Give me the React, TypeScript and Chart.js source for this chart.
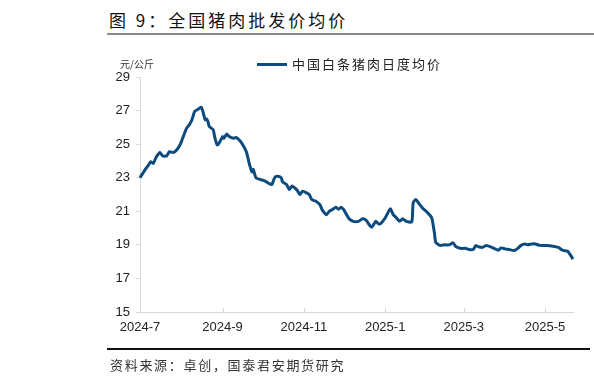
import React, { useEffect, useRef } from "react";
import { Chart, registerables } from "chart.js";

Chart.register(...registerables);

const dates: string[] = [
  "2024-07-01","2024-07-05","2024-07-07","2024-07-09","2024-07-11","2024-07-13","2024-07-16","2024-07-18","2024-07-21","2024-07-23","2024-07-26","2024-07-28","2024-07-31",
  "2024-08-02","2024-08-05","2024-08-07","2024-08-09","2024-08-11","2024-08-14","2024-08-16","2024-08-17","2024-08-19","2024-08-20","2024-08-21","2024-08-22","2024-08-25","2024-08-26","2024-08-28","2024-08-30",
  "2024-09-01","2024-09-02","2024-09-04","2024-09-06","2024-09-09","2024-09-11","2024-09-14","2024-09-17","2024-09-19","2024-09-21","2024-09-23","2024-09-24","2024-09-26","2024-09-29",
  "2024-10-03","2024-10-06","2024-10-08","2024-10-10","2024-10-12","2024-10-15","2024-10-16","2024-10-19","2024-10-21","2024-10-23","2024-10-25","2024-10-27","2024-10-29","2024-10-31",
  "2024-11-03","2024-11-05","2024-11-07","2024-11-10","2024-11-13","2024-11-15","2024-11-18","2024-11-20","2024-11-23","2024-11-25","2024-11-27","2024-11-29",
  "2024-12-01","2024-12-03","2024-12-05","2024-12-08","2024-12-12","2024-12-15","2024-12-18","2024-12-20","2024-12-22","2024-12-25","2024-12-27","2024-12-29",
  "2025-01-01","2025-01-03","2025-01-05","2025-01-07","2025-01-09","2025-01-12","2025-01-14","2025-01-17","2025-01-21","2025-01-22","2025-01-24","2025-01-26","2025-01-29",
  "2025-02-02","2025-02-05","2025-02-07","2025-02-08","2025-02-11","2025-02-15","2025-02-18","2025-02-21","2025-02-23","2025-02-27",
  "2025-03-02","2025-03-05","2025-03-08","2025-03-10","2025-03-13","2025-03-15","2025-03-18","2025-03-22","2025-03-24","2025-03-27","2025-03-29",
  "2025-04-01","2025-04-04","2025-04-08","2025-04-11","2025-04-13","2025-04-16","2025-04-18","2025-04-21","2025-04-23","2025-04-27",
  "2025-05-02","2025-05-07","2025-05-11","2025-05-14","2025-05-18","2025-05-20","2025-05-22",
];

const prices: number[] = [
  23.0,23.5,23.7,23.95,23.85,24.2,24.5,24.3,24.3,24.55,24.5,24.6,24.95,
  25.35,25.95,26.15,26.45,26.95,27.1,27.2,27.0,26.45,26.5,26.35,26.05,25.85,25.45,24.95,25.15,
  25.45,25.35,25.6,25.45,25.35,25.4,25.2,24.85,24.5,23.85,23.35,23.5,23.0,22.9,
  22.8,22.65,22.6,23.0,23.08,23.0,22.75,22.6,22.3,22.5,22.4,22.25,22.0,22.2,
  22.1,22.0,21.7,21.6,21.4,21.05,20.8,21.0,21.13,21.24,21.12,21.24,
  21.08,20.8,20.55,20.4,20.4,20.55,20.45,20.2,20.05,20.4,20.25,20.3,
  20.6,20.9,21.15,20.8,20.65,20.4,20.55,20.4,20.37,21.5,21.7,21.5,21.2,
  20.9,20.6,19.7,19.15,18.97,19.0,19.0,19.12,18.9,18.78,
  18.8,18.72,18.72,18.95,18.87,18.85,18.96,18.85,18.78,18.68,18.82,
  18.76,18.72,18.66,18.82,18.97,19.05,19.0,19.05,19.07,18.97,
  18.96,18.92,18.85,18.68,18.62,18.4,18.15,
];

const tickDates: string[] = ["2024-07-01", "2024-09-01", "2024-11-01", "2025-01-01", "2025-03-01", "2025-05-01"];
const tickLabels: string[] = ["2024-7", "2024-9", "2024-11", "2025-1", "2025-3", "2025-5"];
const yTicks: number[] = [15, 17, 19, 21, 23, 25, 27, 29];

const seriesName = "中国白条猪肉日度均价";
const title = "图 9：全国猪肉批发价均价";
const unit = "元/公斤";
const source = "资料来源：卓创，国泰君安期货研究";

const ORIGIN = Date.UTC(2024, 6, 1);
const dayOf = (s: string) => {
  const [y, m, d] = s.split("-").map(Number);
  return (Date.UTC(y, m - 1, d) - ORIGIN) / 86400000;
};

const LINE = "#0d4a7e";

export default function App() {
  const ref = useRef<HTMLCanvasElement | null>(null);

  useEffect(() => {
    if (!ref.current) return;
    const tickDays = tickDates.map(dayOf);
    const labelMap = new Map<number, string>();
    tickDays.forEach((d, i) => labelMap.set(d, tickLabels[i]));
    const points = dates.map((d, i) => ({ x: dayOf(d), y: prices[i] }));
    const xMax = dayOf(dates[dates.length - 1]);

    const innerTicks = {
      id: "innerTicks",
      afterDraw(chart: any) {
        const { ctx, chartArea, scales } = chart;
        const xs = scales.x;
        ctx.save();
        ctx.strokeStyle = "#d9d9d9";
        ctx.lineWidth = 1;
        xs.ticks.forEach((t: any) => {
          const px = Math.round(xs.getPixelForValue(t.value)) + 0.5;
          ctx.beginPath();
          ctx.moveTo(px, chartArea.bottom);
          ctx.lineTo(px, chartArea.bottom - 4);
          ctx.stroke();
        });
        ctx.restore();
      },
    };

    const chart = new Chart(ref.current, {
      type: "line",
      data: {
        datasets: [
          {
            label: seriesName,
            data: points,
            borderColor: LINE,
            backgroundColor: LINE,
            borderWidth: 3,
            pointRadius: 0,
            tension: 0.2,
            clip: false as any,
          },
        ],
      },
      options: {
        animation: false,
        responsive: false,
        devicePixelRatio: 1,
        layout: { padding: { left: 0, top: 77, right: 21, bottom: 0 } },
        plugins: { legend: { display: false }, tooltip: { enabled: false } },
        scales: {
          x: {
            type: "linear",
            min: 0,
            max: xMax,
            afterFit: (s: any) => {
              s.height = 73;
            },
            afterBuildTicks: (s: any) => {
              s.ticks = tickDays.map((v) => ({ value: v }));
            },
            ticks: {
              autoSkip: false,
              maxRotation: 0,
              padding: 8,
              color: "#222",
              font: { family: "'Liberation Sans', Arial, sans-serif", size: 13 },
              callback: (v: any) => labelMap.get(Number(v)) ?? "",
            },
            grid: { display: true, drawOnChartArea: false, drawTicks: false, color: "#d9d9d9" },
            border: { color: "#d9d9d9", width: 1 },
          },
          y: {
            min: 15,
            max: 29,
            afterFit: (s: any) => {
              s.width = 140;
            },
            afterBuildTicks: (s: any) => {
              s.ticks = yTicks.map((v) => ({ value: v }));
            },
            ticks: {
              padding: 6,
              color: "#222",
              font: { family: "'Liberation Sans', Arial, sans-serif", size: 13 },
            },
            grid: { display: true, drawOnChartArea: false, drawTicks: true, tickLength: 4, color: "#d9d9d9" },
            border: { color: "#d9d9d9", width: 1 },
          },
        },
      },
      plugins: [innerTicks],
    });
    return () => chart.destroy();
  }, []);

  const cjk = "'Noto Sans CJK SC', 'Noto Sans', sans-serif";

  return (
    <div style={{ position: "fixed", left: 0, top: 0, width: 594, height: 385, background: "#fff", overflow: "hidden" }}>
      <div
        style={{
          position: "absolute",
          left: 109,
          top: 8,
          fontFamily: cjk,
          fontSize: 17,
          lineHeight: "24px",
          letterSpacing: 3,
          color: "#111",
          whiteSpace: "pre",
        }}
      >
        {title}
      </div>
      <div style={{ position: "absolute", left: 107, top: 33, width: 487, height: 2, background: "#8c8c8c" }} />
      <canvas ref={ref} width={594} height={385} style={{ position: "absolute", left: 0, top: 0 }} />
      <div
        style={{
          position: "absolute",
          left: 120,
          top: 57,
          fontFamily: cjk,
          fontSize: 10,
          lineHeight: "14px",
          color: "#333",
          whiteSpace: "pre",
        }}
      >
        {unit}
      </div>
      <div style={{ position: "absolute", left: 257, top: 63, width: 30, height: 3, background: LINE }} />
      <div
        style={{
          position: "absolute",
          left: 292,
          top: 55,
          fontFamily: cjk,
          fontSize: 13,
          lineHeight: "18px",
          letterSpacing: 2,
          color: "#222",
          whiteSpace: "pre",
        }}
      >
        {seriesName}
      </div>
      <div style={{ position: "absolute", left: 107, top: 348, width: 483, height: 1.5, background: "#111" }} />
      <div
        style={{
          position: "absolute",
          left: 110,
          top: 356,
          fontFamily: cjk,
          fontSize: 13,
          lineHeight: "18px",
          letterSpacing: 1.7,
          color: "#333",
          whiteSpace: "pre",
        }}
      >
        {source}
      </div>
    </div>
  );
}
